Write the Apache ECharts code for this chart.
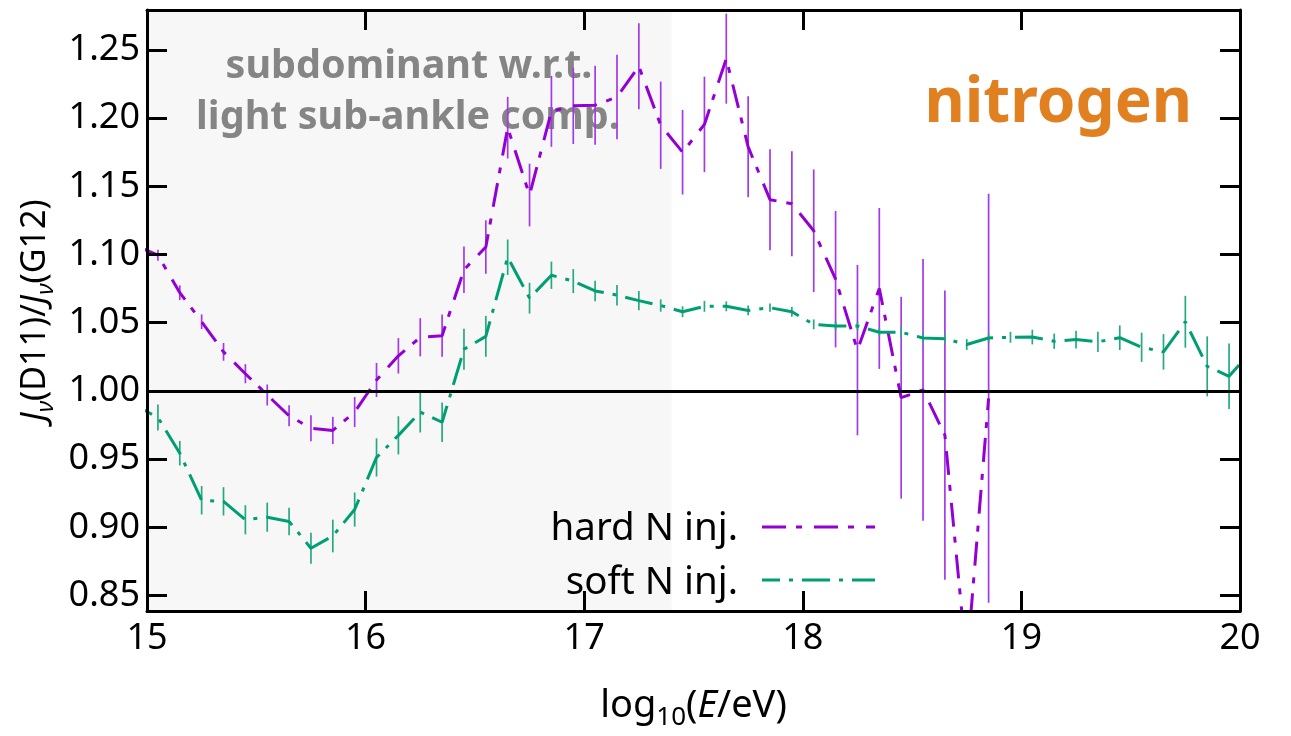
<!DOCTYPE html>
<html>
<head>
<meta charset="utf-8">
<script src="https://cdn.jsdelivr.net/npm/echarts@6/dist/echarts.min.js"></script>
<style>
  html, body { margin: 0; padding: 0; background: #ffffff; }
  #chart { width: 1291px; height: 736px; }
</style>
</head>
<body>
<div id="chart"></div>
<script>
// Energy bin centres, log10(E/eV)
const energies = [
  14.95, 15.05, 15.15, 15.25, 15.35, 15.45, 15.55, 15.65, 15.75, 15.85,
  15.95, 16.05, 16.15, 16.25, 16.35, 16.45, 16.55, 16.65, 16.75, 16.85,
  16.95, 17.05, 17.15, 17.25, 17.35, 17.45, 17.55, 17.65, 17.75, 17.85,
  17.95, 18.05, 18.15, 18.25, 18.35, 18.45, 18.55, 18.65, 18.75, 18.85,
  18.95, 19.05, 19.15, 19.25, 19.35, 19.45, 19.55, 19.65, 19.75, 19.85,
  19.95, 20.05
];

// Flux ratio J(D11)/J(G12), hard nitrogen injection (bins up to 18.85)
const hardRatio = [
  1.1065, 1.0995, 1.072, 1.0507, 1.0286, 1.0126, 0.997, 0.9817, 0.9726, 0.971,
  0.9845, 1.008, 1.0257, 1.0393, 1.0405, 1.0888, 1.1055, 1.193, 1.1436, 1.205,
  1.209, 1.2095, 1.2155, 1.238, 1.1948, 1.175, 1.1954, 1.2436, 1.179, 1.1402,
  1.1373, 1.1174, 1.0819, 1.0299, 1.0751, 0.995, 1.0007, 0.9676, 0.800, 0.9946
];
const hardErr = [
  0.004, 0.004, 0.0054, 0.0054, 0.0065, 0.007, 0.0077, 0.0077, 0.0095, 0.010,
  0.011, 0.0125, 0.013, 0.014, 0.0155, 0.017, 0.0196, 0.0226, 0.023, 0.026,
  0.028, 0.029, 0.031, 0.0315, 0.032, 0.031, 0.035, 0.033, 0.037, 0.037,
  0.0385, 0.045, 0.050, 0.0625, 0.059, 0.074, 0.096, 0.106, 0.03, 0.15
];

// Flux ratio J(D11)/J(G12), soft nitrogen injection
const softRatio = [
  0.989, 0.9805, 0.9543, 0.9198, 0.919, 0.9055, 0.9074, 0.9043, 0.8846, 0.8936,
  0.913, 0.9512, 0.9674, 0.9845, 0.977, 1.0305, 1.040, 1.098, 1.068, 1.0848,
  1.0805, 1.0733, 1.0702, 1.0662, 1.0626, 1.058, 1.062, 1.062, 1.059, 1.061,
  1.058, 1.0488, 1.0476, 1.0476, 1.043, 1.043, 1.0388, 1.0383, 1.034, 1.0388,
  1.0393, 1.0395, 1.0364, 1.0376, 1.036, 1.039, 1.032, 1.0286, 1.0507, 1.018,
  1.0107, 1.029
];
const softErr = [
  0.0095, 0.0095, 0.009, 0.0104, 0.0104, 0.0107, 0.0107, 0.0101, 0.0113, 0.012,
  0.0125, 0.014, 0.014, 0.015, 0.0145, 0.015, 0.015, 0.013, 0.0113, 0.010,
  0.0088, 0.0075, 0.0075, 0.007, 0.0045, 0.004, 0.004, 0.0036, 0.0036, 0.003,
  0.0036, 0.0036, 0.0033, 0.003, 0.003, 0.004, 0.0036, 0.0036, 0.004, 0.0036,
  0.004, 0.0054, 0.0056, 0.0065, 0.0074, 0.009, 0.0107, 0.013, 0.019, 0.022,
  0.024, 0.025
];

// Axis ranges and ticks
const xRange = [15, 20];
const yRange = [0.8386, 1.2793];
const yTicks = [0.85, 0.90, 0.95, 1.00, 1.05, 1.10, 1.15, 1.20, 1.25];
const referenceRatio = 1.0;
// Energy band where the component is subdominant
const shadedBand = [15, 17.4];

const FONT = '"Noto Sans", "Open Sans", sans-serif';
const HARD_COLOR = '#9400d3';
const HARD_BAR = '#a43ae6';
const SOFT_COLOR = '#009e73';
const SOFT_BAR = '#26a982';
const HARD_DASH = [24, 10, 6, 12];
const SOFT_DASH = [28, 9, 4, 9];

const hardPoints = hardRatio.map((v, i) => [energies[i], v]);
const hardBars = hardRatio.map((v, i) => [energies[i], v, hardErr[i]]);
const softPoints = softRatio.map((v, i) => [energies[i], v]);
const softBars = softRatio.map((v, i) => [energies[i], v, softErr[i]]);

function errorBarRenderer(color) {
  return function (params, api) {
    const x = api.value(0), y = api.value(1), e = api.value(2);
    if (x < xRange[0] || x > xRange[1]) return null;
    const cs = params.coordSys;
    const top = api.coord([x, y + e]);
    const bot = api.coord([x, y - e]);
    const y1 = Math.max(cs.y, Math.min(cs.y + cs.height, top[1]));
    const y2 = Math.max(cs.y, Math.min(cs.y + cs.height, bot[1]));
    if (y1 === y2) return null;
    return {
      type: 'line',
      shape: { x1: top[0], y1: y1, x2: top[0], y2: y2 },
      style: { stroke: color, lineWidth: 1.7 }
    };
  };
}

// Rich-text styles: main tokens hug the top of the line box while the
// subscript sits at the bottom of a slightly taller box.
function richStyles(size, subSize, subBox, subItalic) {
  return {
    n: { fontSize: size, fontFamily: FONT, color: '#000', lineHeight: size, verticalAlign: 'top' },
    it: { fontSize: size, fontFamily: FONT, fontStyle: 'italic', color: '#000', lineHeight: size, verticalAlign: 'top' },
    sub: { fontSize: subSize, fontFamily: FONT, fontStyle: subItalic ? 'italic' : 'normal', color: '#000', lineHeight: subBox, verticalAlign: 'bottom' }
  };
}

const tickStyle = { show: true, inside: true, length: 20, lineStyle: { color: '#000', width: 3 } };
const lineAxis = { show: true, lineStyle: { color: '#000', width: 3 } };

const chart = echarts.init(document.getElementById('chart'), null, { renderer: 'canvas' });

chart.setOption({
  animation: false,
  backgroundColor: '#ffffff',
  grid: { left: 147, right: 51, top: 10, bottom: 109, containLabel: false },
  xAxis: [
    {
      type: 'value', position: 'bottom', min: xRange[0], max: xRange[1], interval: 1, z: 5,
      axisLine: lineAxis, axisTick: tickStyle, splitLine: { show: false },
      axisLabel: { fontSize: 36, fontFamily: FONT, color: '#000', margin: 10 },
      name: '{n|log}{sub|10}{n|(}{it|E}{n|/eV)}', nameLocation: 'middle', nameGap: 76,
      nameTextStyle: {
        fontSize: 38, fontFamily: FONT, color: '#000',
        rich: richStyles(38, 26, 44, false)
      }
    },
    {
      type: 'value', position: 'top', min: xRange[0], max: xRange[1], interval: 1, z: 5,
      axisLine: lineAxis, axisTick: tickStyle, splitLine: { show: false },
      axisLabel: { show: false }
    }
  ],
  yAxis: [
    {
      type: 'value', position: 'left', min: yRange[0], max: yRange[1], z: 5,
      axisLine: lineAxis,
      axisTick: Object.assign({ customValues: yTicks }, tickStyle),
      splitLine: { show: false },
      axisLabel: {
        customValues: yTicks, fontSize: 36, fontFamily: FONT, color: '#000', margin: 7,
        formatter: v => v.toFixed(2)
      },
      name: '{it|J}{sub|ν}{n|(D11)/}{it|J}{sub|ν}{n|(G12)}', nameLocation: 'middle', nameGap: 88, nameRotate: 90,
      nameTextStyle: {
        fontSize: 34, fontFamily: FONT, color: '#000',
        rich: richStyles(34, 24, 39, true)
      }
    },
    {
      type: 'value', position: 'right', min: yRange[0], max: yRange[1], z: 5,
      axisLine: lineAxis,
      axisTick: Object.assign({ customValues: yTicks }, tickStyle),
      splitLine: { show: false },
      axisLabel: { show: false }
    }
  ],
  graphic: [
    {
      type: 'text', z: 1, x: 409, y: 67,
      style: { text: 'subdominant w.r.t.', fill: '#858585', font: 'bold 39.5px ' + FONT, align: 'center', verticalAlign: 'middle' }
    },
    {
      type: 'text', z: 1, x: 408, y: 118,
      style: { text: 'light sub-ankle comp.', fill: '#858585', font: 'bold 39.5px ' + FONT, align: 'center', verticalAlign: 'middle' }
    },
    {
      type: 'text', z: 1, x: 1192, y: 104,
      style: { text: 'nitrogen', fill: '#e08020', font: 'bold 62px ' + FONT, align: 'right', verticalAlign: 'middle' }
    },
    {
      type: 'text', z: 6, x: 738, y: 529,
      style: { text: 'hard N inj.', fill: '#000', font: '38.5px ' + FONT, align: 'right', verticalAlign: 'middle' }
    },
    {
      type: 'line', z: 6, shape: { x1: 762, y1: 527, x2: 875, y2: 527 },
      style: { stroke: HARD_COLOR, lineWidth: 3, lineDash: HARD_DASH }
    },
    {
      type: 'text', z: 6, x: 738, y: 583,
      style: { text: 'soft N inj.', fill: '#000', font: '38.5px ' + FONT, align: 'right', verticalAlign: 'middle' }
    },
    {
      type: 'line', z: 6, shape: { x1: 762, y1: 580, x2: 875, y2: 580 },
      style: { stroke: SOFT_COLOR, lineWidth: 3, lineDash: SOFT_DASH, lineDashOffset: 10 }
    }
  ],
  series: [
    {
      name: 'band', type: 'custom', z: 0, silent: true,
      data: [shadedBand],
      renderItem: function (params, api) {
        const cs = params.coordSys;
        const a = api.coord([api.value(0), yRange[1]]);
        const b = api.coord([api.value(1), yRange[0]]);
        return {
          type: 'rect',
          shape: { x: a[0], y: cs.y, width: b[0] - a[0], height: cs.height },
          style: { fill: '#f7f7f7' }
        };
      }
    },
    {
      name: 'reference', type: 'line', z: 2, data: [], silent: true,
      markLine: {
        silent: true, symbol: 'none', label: { show: false },
        lineStyle: { color: '#000', width: 3, type: 'solid' },
        data: [{ yAxis: referenceRatio }]
      }
    },
    {
      name: 'hard N inj. errors', type: 'custom', z: 3, silent: true,
      data: hardBars, renderItem: errorBarRenderer(HARD_BAR)
    },
    {
      name: 'soft N inj. errors', type: 'custom', z: 3, silent: true,
      data: softBars, renderItem: errorBarRenderer(SOFT_BAR)
    },
    {
      name: 'hard N inj.', type: 'line', z: 4, data: hardPoints, symbol: 'none', clip: true,
      lineStyle: { color: HARD_COLOR, width: 3, type: HARD_DASH }
    },
    {
      name: 'soft N inj.', type: 'line', z: 4, data: softPoints, symbol: 'none', clip: true,
      lineStyle: { color: SOFT_COLOR, width: 3, type: SOFT_DASH, dashOffset: 10 }
    }
  ]
});
</script>
</body>
</html>
